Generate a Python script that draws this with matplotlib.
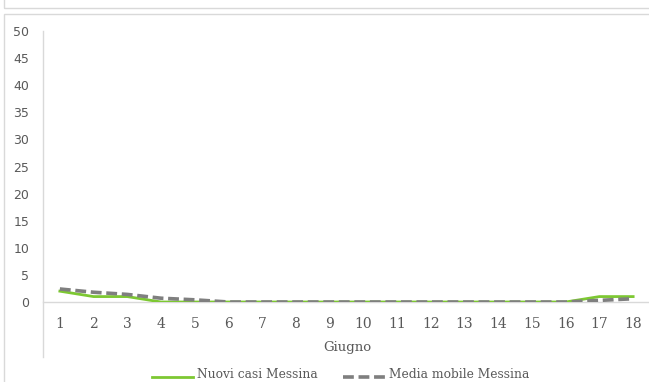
import matplotlib
matplotlib.use("Agg")
import matplotlib.pyplot as plt
from matplotlib.lines import Line2D
from matplotlib.patches import Rectangle

days = list(range(1, 19))
nuovi_casi = [2, 1, 1, 0, 0, 0, 0, 0, 0, 0, 0, 0, 0, 0, 0, 0, 1, 1]
media_mobile = [2.4, 1.8, 1.4, 0.7, 0.4, 0, 0, 0, 0, 0, 0, 0, 0, 0, 0, 0, 0.3, 0.6]
yticks = list(range(0, 55, 5))
xlabel = "Giugno"
labels = ["Nuovi casi Messina", "Media mobile Messina"]

W, H = 649, 382
fig = plt.figure(figsize=(W / 100, H / 100), dpi=100)
fig.patch.set_facecolor("white")

# outer frames (screenshot borders)
fig.add_artist(Rectangle((4 / W, 1 - 8 / H), 1.0, 8 / H + 0.05, transform=fig.transFigure,
                         fill=False, edgecolor="#d9d9d9", linewidth=1))
fig.add_artist(Rectangle((4 / W, -0.05), 1.0, 1 - 14 / H + 0.05, transform=fig.transFigure,
                         fill=False, edgecolor="#d9d9d9", linewidth=1))

left, right = 43 / W, 650 / W
bottom, top = 1 - 302 / H, 1 - 31 / H
ax = fig.add_axes([left, bottom, right - left, top - bottom])
ax.set_facecolor("none")

ax.plot(days, nuovi_casi, color="#7dc832", linewidth=2.0, label=labels[0], zorder=3)
ax.plot(days, media_mobile, color="#7f7f7f", linewidth=2.6, linestyle=(0, (3, 1.3)),
        label=labels[1], zorder=4)

ax.set_xlim(0.5, 18.5)
ax.set_ylim(0, 50)
ax.set_yticks(yticks)
ax.set_yticklabels([str(v) for v in yticks], fontsize=9, color="#595959", family="DejaVu Sans")
ax.set_xticks(days)
ax.set_xticklabels([str(d) for d in days], fontsize=10, color="#595959", family="DejaVu Serif")
ax.tick_params(axis="both", length=0)
ax.tick_params(axis="y", pad=10)
ax.tick_params(axis="x", pad=11)
for s in ["top", "right", "left"]:
    ax.spines[s].set_visible(False)
ax.spines["bottom"].set_color("#d9d9d9")
ax.spines["bottom"].set_linewidth(1)

# vertical axis line extending below the category labels
fig.add_artist(Line2D([left, left], [1 - 357 / H, top], transform=fig.transFigure,
                      color="#d9d9d9", linewidth=1))

fig.text(347 / W, 1 - 347 / H, xlabel, ha="center", va="center", fontsize=9.5,
         color="#595959", family="DejaVu Serif")

# legend
fig.add_artist(Line2D([152 / W, 193 / W], [1 - 377 / H] * 2, transform=fig.transFigure,
                      color="#7dc832", linewidth=2.0))
fig.text(197 / W, 1 - 375 / H, labels[0], ha="left", va="center", fontsize=8.8,
         color="#595959", family="DejaVu Serif")
fig.add_artist(Line2D([343 / W, 387 / W], [1 - 377 / H] * 2, transform=fig.transFigure,
                      color="#7f7f7f", linewidth=2.6, linestyle=(0, (3, 1.3))))
fig.text(389 / W, 1 - 375 / H, labels[1], ha="left", va="center", fontsize=8.8,
         color="#595959", family="DejaVu Serif")

fig.savefig("out.png", dpi=100)
